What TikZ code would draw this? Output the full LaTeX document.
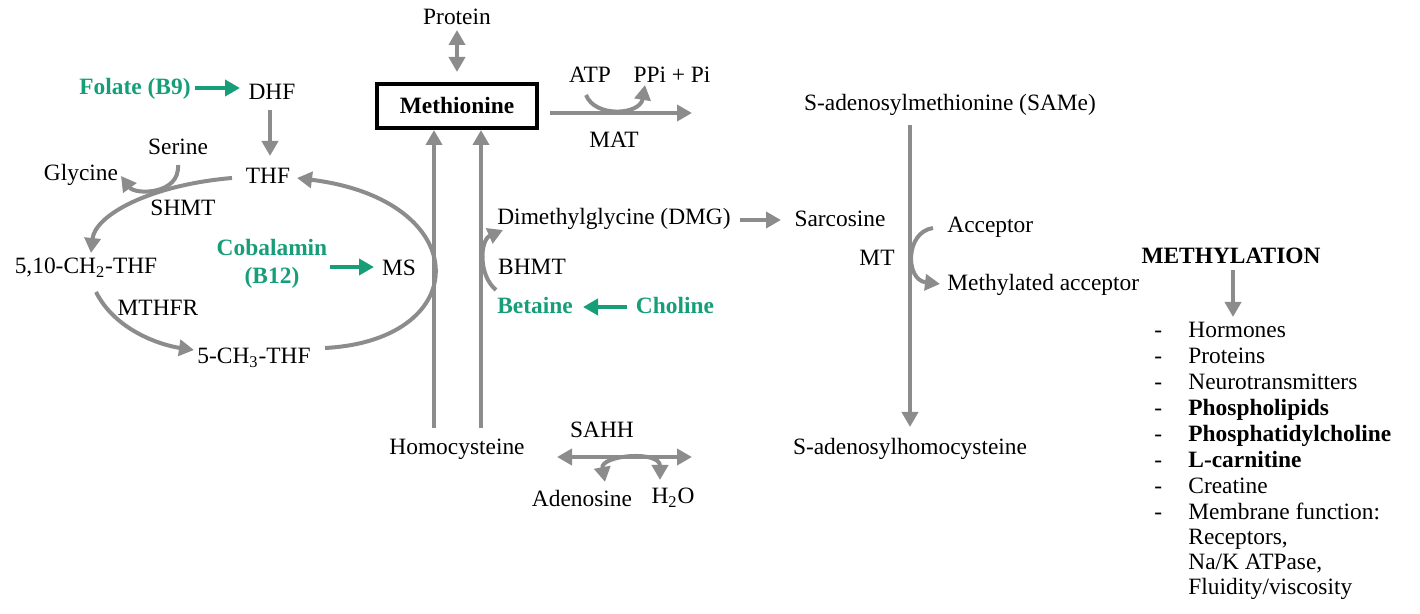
\documentclass[tikz,border=0pt]{standalone}
\usepackage{fontspec}
\setmainfont{Liberation Serif}
\usepackage{tikz}
\usetikzlibrary{arrows.meta}

\definecolor{arrowgray}{RGB}{140,140,140}
\definecolor{vitgreen}{RGB}{22,158,120}

\tikzset{
	lbl/.style={inner sep=1pt, font=\fontsize{11.7pt}{14pt}\selectfont},
	vit/.style={lbl, text=vitgreen, font=\fontsize{11.7pt}{14pt}\selectfont\bfseries, align=center},
	path/.style={draw=arrowgray, line width=2pt, -{Triangle[length=7.5pt,width=8pt]}},
	twoway/.style={path, {Triangle[length=7.5pt,width=8pt]}-{Triangle[length=7.5pt,width=8pt]}},
	feed/.style={draw=vitgreen, line width=2pt, -{Triangle[length=7.5pt,width=8pt]}}
}

\begin{document}
\begin{tikzpicture}[x=0.5pt,y=-0.5pt]
	\useasboundingbox (0,0) rectangle (1420,614);
	% methionine cycle
	\node[lbl] (protein) at (457,17) {Protein};
	\node[lbl, draw=black, line width=1.6pt, minimum width=80pt, minimum height=22pt, font=\fontsize{11.7pt}{14pt}\selectfont\bfseries] (met) at (457,106) {Methionine};
	\node[lbl] (atp) at (590,75) {ATP};
	\node[lbl] (ppi) at (672,75) {PPi + Pi};
	\node[lbl] (mat) at (614,140) {MAT};
	\node[lbl] (same) at (950,105) {S-adenosylmethionine (SAMe)};
	\node[lbl] (mt) at (877,258) {MT};
	\node[lbl, anchor=west] (acc) at (945,227) {Acceptor};
	\node[lbl, anchor=west] (macc) at (945,285) {Methylated acceptor};
	\node[lbl] (sah) at (910,449) {S-adenosylhomocysteine};
	\node[lbl] (hcy) at (457,449) {Homocysteine};
	\node[lbl] (sahh) at (602,430) {SAHH};
	\node[lbl] (ado) at (582,498) {Adenosine};
	\node[lbl] (water) at (673,498) {H\textsubscript{2}O};
	\node[lbl] (dmg) at (614,219) {Dimethylglycine (DMG)};
	\node[lbl] (sarc) at (840,219) {Sarcosine};
	\node[lbl] (bhmt) at (532,267) {BHMT};
	\node[vit] (betaine) at (535,306) {Betaine};
	\node[vit] (choline) at (675,306) {Choline};

	% folate cycle
	\node[vit] (folate) at (135,89) {Folate (B9)};
	\node[lbl] (dhf) at (272,92) {DHF};
	\node[lbl] (thf) at (268,176) {THF};
	\node[lbl] (serine) at (178,147) {Serine};
	\node[lbl] (glycine) at (81,175) {Glycine};
	\node[lbl] (shmt) at (183,208) {SHMT};
	\node[lbl] (mthf) at (86,268) {5,10-CH\textsubscript{2}-THF};
	\node[lbl] (mthfr) at (158,308) {MTHFR};
	\node[lbl] (ch3thf) at (254,358) {5-CH\textsubscript{3}-THF};
	\node[vit] (b12) at (272,264) {Cobalamin\\(B12)};
	\node[lbl] (ms) at (399,268) {MS};

	% methylation targets
	\node[lbl, font=\fontsize{11.7pt}{14pt}\selectfont\bfseries] (methyl) at (1231,256) {METHYLATION};
	\foreach \what [count=\i] in {Hormones, Proteins, Neurotransmitters, \textbf{Phospholipids}, \textbf{Phosphatidylcholine}, \textbf{L-carnitine}, Creatine, Membrane function:}
	{
		\node[lbl, anchor=base west] (dash\i) at (1152,312+26*\i) {-};
		\node[lbl, anchor=base west] (item\i) at (1186,312+26*\i) {\what};
	}
	\foreach \what [count=\j] in {{Receptors,}, {Na/K ATPase,}, Fluidity/viscosity}
		\node[lbl, anchor=base west] (cont\j) at (1186,520+25*\j) {\what};

	% connectors
	\draw[twoway] (457,30) -- (457,72);
	\draw[path] (550,113) -- (692,113);
	\draw[path] (586,95) .. controls (595,118) and (640,115) .. (645,85);
	\draw[path] (910,125) -- (910,427);
	\draw[path] (933,228) .. controls (905,232) and (905,280) .. (940,284);
	\draw[path] (434,428) -- (434,130);
	\draw[path] (481,428) -- (481,130);
	\draw[twoway] (557,457) -- (692,457);
	\draw[twoway] (605,482) .. controls (600,455) and (660,450) .. (660,480);
	\draw[path] (740,220) -- (781,220);
	\draw[path] (496,290) .. controls (478,275) and (480,240) .. (503,230);
	\draw[feed] (627,307) -- (583,307);
	\draw[feed] (195,88) -- (240,88);
	\draw[path] (270,110) -- (270,156);
	\draw[path] (232,178) .. controls (150,185) and (95,215) .. (91,253);
	\draw[path] (178,165) .. controls (180,195) and (135,195) .. (121,176);
	\draw[path] (96,292) .. controls (115,330) and (160,345) .. (194,350);
	\draw[path] (325,348) .. controls (475,340) and (475,200) .. (297,178);
	\draw[feed] (330,267) -- (374,267);
	\draw[path] (1233,270) -- (1233,317);
\end{tikzpicture}
\end{document}
